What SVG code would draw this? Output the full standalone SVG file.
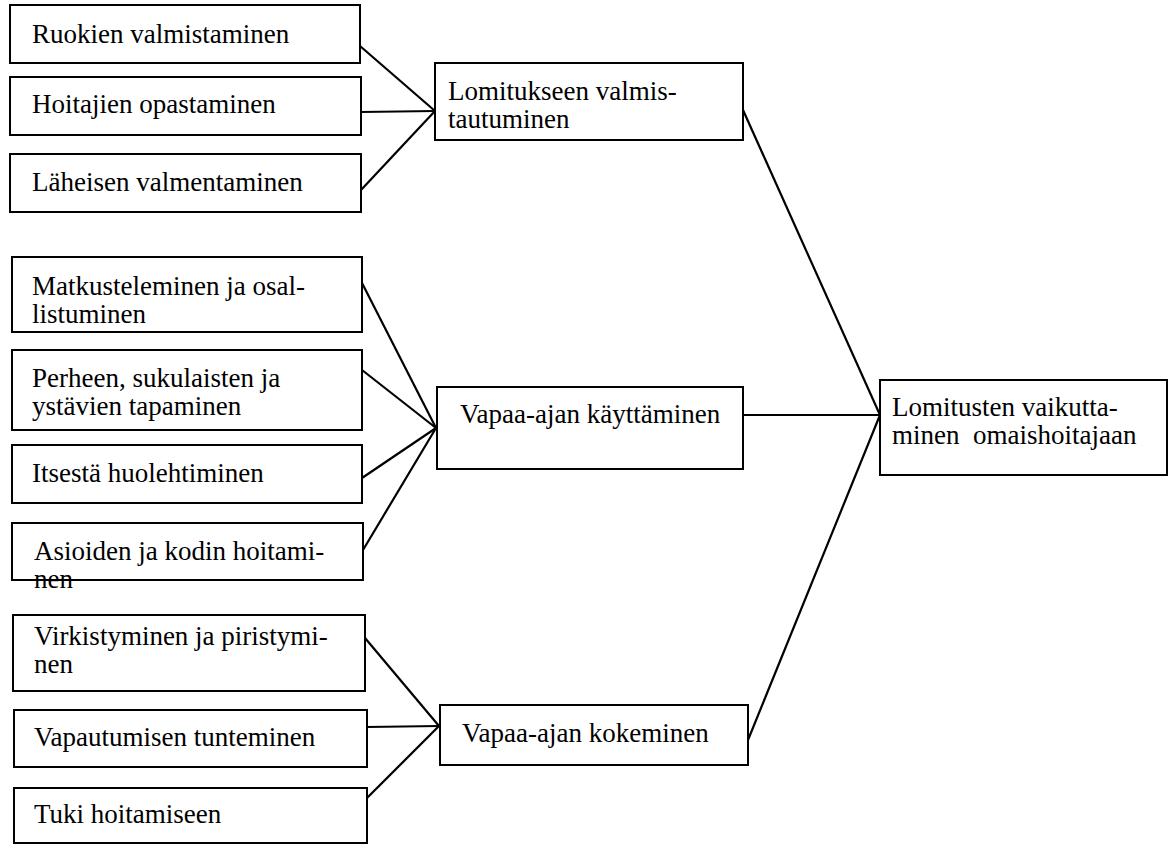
<svg xmlns="http://www.w3.org/2000/svg" width="1172" height="845" viewBox="0 0 1172 845">
  <style>
    .box { fill: #ffffff; stroke: #000000; stroke-width: 2; }
    .lbl { font-family: "Liberation Serif", "Times New Roman", serif; font-size: 27px; fill: #000000; }
    .edge { stroke: #000000; stroke-width: 2.2; fill: none; }
  </style>
  <rect width="1172" height="845" fill="#ffffff"/>

  <!-- connectors -->
  <g id="connectors">
    <line class="edge" x1="360" y1="46" x2="435" y2="111"/>
    <line class="edge" x1="361" y1="112" x2="435" y2="111"/>
    <line class="edge" x1="361" y1="190" x2="435" y2="111"/>

    <line class="edge" x1="362" y1="283" x2="436" y2="428"/>
    <line class="edge" x1="362" y1="370" x2="436" y2="428"/>
    <line class="edge" x1="362" y1="478" x2="436" y2="428"/>
    <line class="edge" x1="363" y1="550" x2="436" y2="428"/>

    <line class="edge" x1="365" y1="638" x2="439" y2="726"/>
    <line class="edge" x1="367" y1="727" x2="439" y2="726"/>
    <line class="edge" x1="367" y1="798" x2="439" y2="726"/>

    <line class="edge" x1="743" y1="110" x2="880" y2="415"/>
    <line class="edge" x1="743" y1="415" x2="880" y2="415"/>
    <line class="edge" x1="748" y1="740" x2="880" y2="415"/>
  </g>

  <!-- first column -->
  <g id="ruokien">
    <rect class="box" x="10" y="5" width="350" height="58"/>
    <text class="lbl" x="32" y="43">Ruokien valmistaminen</text>
  </g>
  <g id="hoitajien">
    <rect class="box" x="10" y="77" width="351" height="58"/>
    <text class="lbl" x="32" y="113">Hoitajien opastaminen</text>
  </g>
  <g id="laheisen">
    <rect class="box" x="10" y="154" width="351" height="58"/>
    <text class="lbl" x="32" y="191">Läheisen valmentaminen</text>
  </g>

  <g id="matkusteleminen">
    <rect class="box" x="12" y="257" width="350" height="75"/>
    <text class="lbl" x="32" y="295">Matkusteleminen ja osal-</text>
    <text class="lbl" x="32" y="323">listuminen</text>
  </g>
  <g id="perheen">
    <rect class="box" x="12" y="350" width="350" height="80"/>
    <text class="lbl" x="32" y="387">Perheen, sukulaisten ja</text>
    <text class="lbl" x="32" y="415">ystävien tapaminen</text>
  </g>
  <g id="itsesta">
    <rect class="box" x="12" y="445" width="350" height="58"/>
    <text class="lbl" x="32" y="482">Itsestä huolehtiminen</text>
  </g>
  <g id="asioiden">
    <rect class="box" x="12" y="523" width="351" height="57"/>
    <text class="lbl" x="34" y="560">Asioiden ja kodin hoitami-</text>
    <text class="lbl" x="34" y="588">nen</text>
  </g>

  <g id="virkistyminen">
    <rect class="box" x="13" y="615" width="352" height="76"/>
    <text class="lbl" x="34" y="645">Virkistyminen ja piristymi-</text>
    <text class="lbl" x="34" y="673">nen</text>
  </g>
  <g id="vapautumisen">
    <rect class="box" x="14" y="710" width="353" height="57"/>
    <text class="lbl" x="34" y="746">Vapautumisen tunteminen</text>
  </g>
  <g id="tuki">
    <rect class="box" x="14" y="788" width="353" height="55"/>
    <text class="lbl" x="34" y="823">Tuki hoitamiseen</text>
  </g>

  <!-- second column -->
  <g id="lomitukseen">
    <rect class="box" x="435" y="63" width="308" height="77"/>
    <text class="lbl" x="448" y="100">Lomitukseen valmis-</text>
    <text class="lbl" x="448" y="128">tautuminen</text>
  </g>
  <g id="kayttaminen">
    <rect class="box" x="437" y="387" width="306" height="82"/>
    <text class="lbl" x="460" y="423">Vapaa-ajan käyttäminen</text>
  </g>
  <g id="kokeminen">
    <rect class="box" x="440" y="705" width="308" height="60"/>
    <text class="lbl" x="462" y="742">Vapaa-ajan kokeminen</text>
  </g>

  <!-- result -->
  <g id="vaikuttaminen">
    <rect class="box" x="880" y="380" width="287" height="95"/>
    <text class="lbl" x="892" y="416">Lomitusten vaikutta-</text>
    <text class="lbl" x="892" y="444" xml:space="preserve">minen  omaishoitajaan</text>
  </g>
</svg>
